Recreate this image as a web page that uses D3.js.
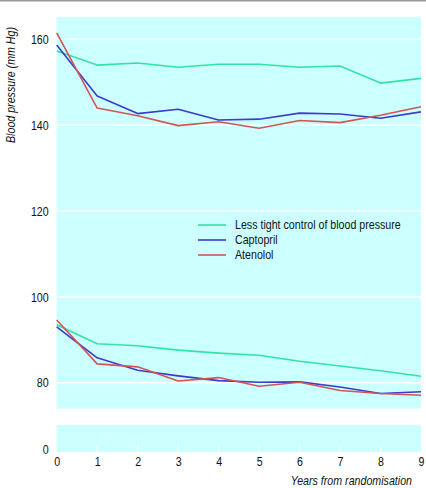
<!DOCTYPE html>
<html><head><meta charset="utf-8">
<script src="https://cdn.jsdelivr.net/npm/d3@7"></script>
<style>
html,body{margin:0;padding:0;background:#fff;}
svg text{font-family:"Liberation Sans Narrow","Arial Narrow","Liberation Sans",Arial,sans-serif;font-size:13px;fill:#111;}
</style></head>
<body><svg id="c" width="426" height="488"></svg>
<script>
const years = [0,1,2,3,4,5,6,7,8,9];
const seriesNames = ["Less tight control of blood pressure","Captopril","Atenolol"];
const seriesColors = ["#33e3a6","#3b3bcc","#d45454"];
// systolic
const lessTightSys = [157.3,154.0,154.5,153.5,154.2,154.2,153.5,153.8,149.8,150.9];
const captoprilSys = [158.7,146.8,142.7,143.7,141.2,141.4,142.8,142.6,141.6,143.1];
const atenololSys  = [161.5,144.0,142.2,139.9,140.8,139.3,141.1,140.6,142.3,144.3];
// diastolic
const lessTightDia = [93.5,89.1,88.6,87.6,86.9,86.4,85.0,83.9,82.8,81.5];
const captoprilDia = [93.0,85.8,82.9,81.6,80.5,80.1,80.2,79.0,77.5,77.9];
const atenololDia  = [94.6,84.4,83.7,80.4,81.2,79.2,80.1,78.2,77.5,77.1];
const yTicks = [80,100,120,140,160];
const xTicks = [0,1,2,3,4,5,6,7,8,9];

const svg = d3.select("#c");
const L = 56.7, R = 421;
const SX = 0.82; // horizontal condensing of the type face
const x = d3.scaleLinear().domain([0,9]).range([L,R]);
const y = d3.scaleLinear().domain([74,165.2]).range([408.5,17]);
const y0 = d3.scaleLinear().domain([0,6.3]).range([452,425]);

// top rule
svg.append("rect").attr("x",0).attr("y",0).attr("width",426).attr("height",1.5).attr("fill","#9a9a9a");

// panels
svg.append("rect").attr("x",L).attr("y",y(165.2)).attr("width",R-L).attr("height",y(74)-y(165.2)).attr("fill","#ccffff");
svg.append("rect").attr("x",L).attr("y",y0(6.3)).attr("width",R-L).attr("height",y0(0)-y0(6.3)).attr("fill","#ccffff");

// gridlines
svg.append("g").selectAll("line").data(yTicks).join("line")
  .attr("x1",L).attr("x2",R).attr("y1",d=>y(d)).attr("y2",d=>y(d))
  .attr("stroke","#fff").attr("stroke-width",1.5);

function condense(sel){
  sel.each(function(){
    const t = d3.select(this);
    const ax = +(t.attr("x")||0);
    const prev = t.attr("transform")||"";
    t.attr("transform", `${prev} translate(${ax},0) scale(${SX},1) translate(${-ax},0)`);
  });
}

// y axis labels
const yAxis = d3.axisLeft(y).tickValues(yTicks).tickSize(0).tickPadding(8).tickFormat(d3.format("d"));
const ga = svg.append("g").attr("transform",`translate(${L},0)`).call(yAxis);
ga.select(".domain").remove();
ga.selectAll("text").attr("font-size",null).attr("font-family",null).attr("fill",null).call(condense);
const ya0 = d3.axisLeft(y0).tickValues([0]).tickSize(0).tickPadding(8).tickFormat(d3.format("d"));
const gb = svg.append("g").attr("transform",`translate(${L},0)`).call(ya0);
gb.select(".domain").remove();
gb.selectAll("text").attr("font-size",null).attr("font-family",null).attr("fill",null).attr("dy","0.1em").call(condense);

// x ticks (white, inside lower panel)
svg.append("g").selectAll("line").data(xTicks.slice(1,-1)).join("line")
  .attr("x1",d=>x(d)).attr("x2",d=>x(d)).attr("y1",452).attr("y2",445)
  .attr("stroke","#fff").attr("stroke-width",1.2);
const xa = d3.axisBottom(x).tickValues(xTicks).tickSize(0).tickPadding(5).tickFormat(d3.format("d"));
const gx = svg.append("g").attr("transform","translate(0,452)").call(xa);
gx.select(".domain").remove();
gx.selectAll("text").attr("font-size",null).attr("font-family",null).attr("fill",null).call(condense);

// axis titles
svg.append("text").attr("transform",`translate(15,143) rotate(-90) scale(${SX},1)`)
  .attr("font-style","italic").attr("text-anchor","start").text("Blood pressure (mm Hg)");
svg.append("text").attr("x",412).attr("y",485).attr("text-anchor","end")
  .attr("font-style","italic").text("Years from randomisation").call(condense);

// lines
const line = d3.line().x((d,i)=>x(years[i])).y(d=>y(d));
const sets = [[lessTightSys,lessTightDia],[captoprilSys,captoprilDia],[atenololSys,atenololDia]];
[0,1,2].forEach(k=>{
  sets[k].forEach(arr=>{
    svg.append("path").attr("d",line(arr)).attr("fill","none")
      .attr("stroke",seriesColors[k]).attr("stroke-width",1.6).attr("stroke-linejoin","round");
  });
});

// legend
const lg = svg.append("g");
const rows = [225,240,255];
seriesNames.forEach((n,i)=>{
  lg.append("line").attr("x1",198).attr("x2",226).attr("y1",rows[i]).attr("y2",rows[i])
    .attr("stroke",seriesColors[i]).attr("stroke-width",1.6);
  lg.append("text").attr("x",235).attr("y",rows[i]+4.5).text(n).call(condense);
});
</script></body></html>
